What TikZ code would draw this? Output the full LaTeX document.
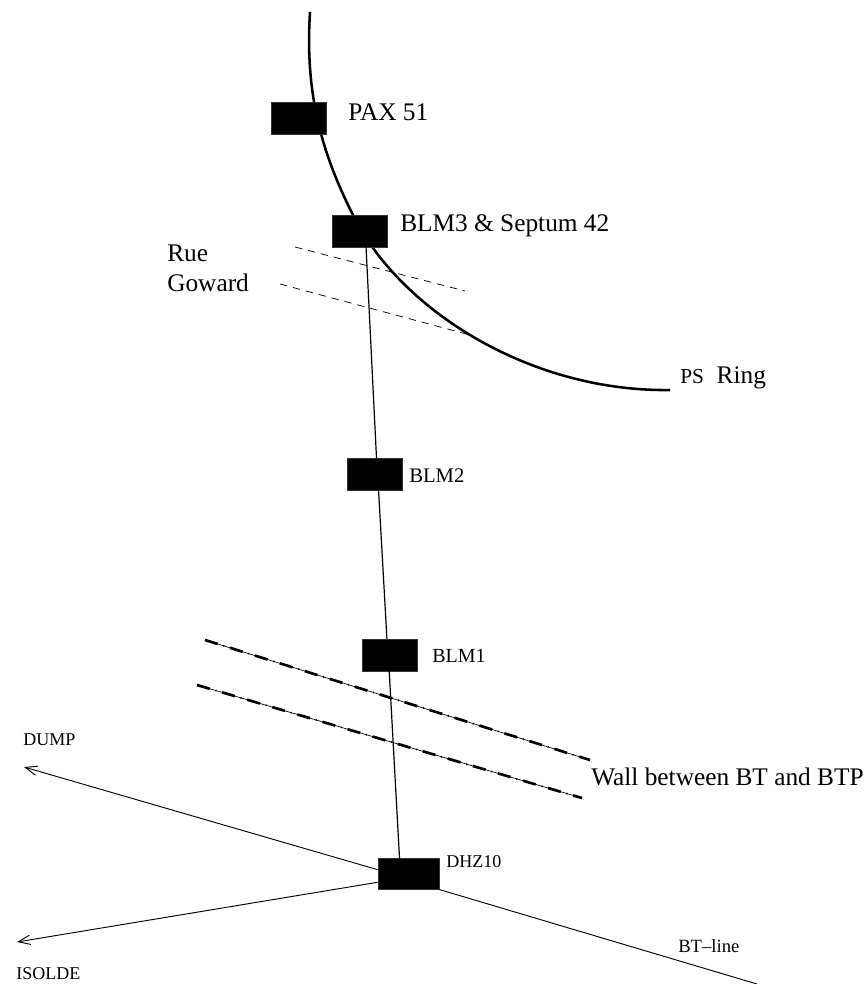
\documentclass[tikz,border=0pt]{standalone}
\usepackage{fontspec}
\setmainfont{Liberation Serif}
\usepackage{tikz}
\usetikzlibrary{arrows.meta}
\tikzset{
  magnet/.style={fill=black,draw=black!80,line width=0.3pt,inner sep=0pt,minimum width=41pt,minimum height=24pt},
  beamline/.style={line width=0.9pt},
  transfer/.style={line width=0.7pt},
  wallline/.style={line width=0.5pt,
    postaction={draw,line width=2pt,dash pattern=on 10pt off 9.6pt},
    postaction={draw,line width=1.3pt,dash pattern=on 0.8pt off 18.8pt,dash phase=-14.4pt}},
  roadline/.style={line width=0.55pt,dash pattern=on 5.5pt off 4.5pt},
  lbl/.style={inner sep=0pt,anchor=west,font=\fontsize{19}{22.5}\selectfont},
  lblsmall/.style={inner sep=0pt,anchor=west,font=\fontsize{13.5}{16}\selectfont}
}

\begin{document}
\begin{tikzpicture}[x=0.75pt,y=-0.75pt,>={Straight Barb[length=9pt,width=7pt]}]
  \useasboundingbox (0,0) rectangle (867,984);
  % PS ring
  \draw[line width=1.9pt] (310,12) .. controls (305,90) and (320,150) .. (353,215)
    .. controls (400,310) and (530,392) .. (670,390);
  % magnets and monitors
  \node[magnet] (pax) at (299,118) {};
  \node[magnet] (blmthree) at (359.5,231) {};
  \node[magnet] (blmtwo) at (374.5,474) {};
  \node[magnet] (blmone) at (389.5,655) {};
  \node[magnet,minimum width=46pt,minimum height=23pt] (dhz) at (408.5,874) {};
  \coordinate (dumpend) at (24,767);
  \coordinate (isoldeend) at (17,942);
  \coordinate (btend) at (757,984);
  % line to the dump and to isolde
  \draw[beamline] (blmthree.-68) -- (blmtwo.83);
  \draw[beamline] (blmtwo.-76) -- (blmone.99);
  \draw[beamline] (blmone.-91) -- (dhz.120);
  \draw[transfer,->] (dhz.172) -- (dumpend);
  \draw[transfer,->] (dhz.195) -- (isoldeend);
  \draw[transfer] (dhz.south east) -- (btend);
  % road and wall
  \draw[roadline] (295,247) -- (465,291);
  \draw[roadline] (280,284) -- (470,335);
  \draw[wallline] (205,640) -- (590,760);
  \draw[wallline] (197,685) -- (582,798);
  % labels
  \node[lbl] (paxlabel) at (348,112) {PAX 51};
  \node[lbl] (septumlabel) at (400,226) {BLM3 \& Septum 42};
  \node[lbl,align=left] (ruelabel) at (167,268) {Rue\\Goward};
  \node[lbl] (ringlabel) at (680,378) {{\fontsize{16}{18}\selectfont PS}\ \ Ring};
  \node[lblsmall,font=\fontsize{15.5}{18}\selectfont] (blmtwolabel) at (409,476) {BLM2};
  \node[lblsmall,font=\fontsize{15}{18}\selectfont] (blmonelabel) at (432,656) {BLM1};
  \node[lbl] (walllabel) at (591,777) {Wall between BT and BTP};
  \node[lblsmall] (dumplabel) at (23,740) {DUMP};
  \node[lblsmall] (dhzlabel) at (446,862) {DHZ10};
  \node[lblsmall,font=\fontsize{14}{16}\selectfont] (btlabel) at (678,946) {BT--line};
  \node[lblsmall] (isoldelabel) at (16,974) {ISOLDE};
\end{tikzpicture}
\end{document}
